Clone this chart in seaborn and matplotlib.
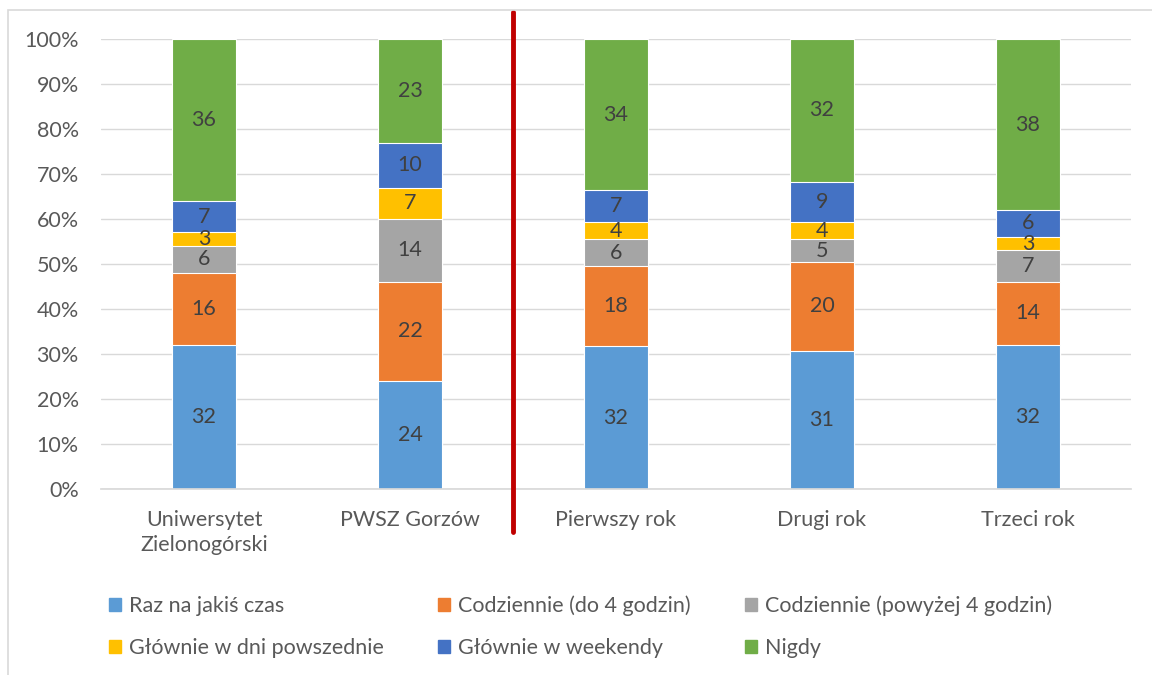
import numpy as np
import pandas as pd
import seaborn as sns
from matplotlib import pyplot as plt
from matplotlib.patches import Rectangle

categories = ['Uniwersytet\nZielonogórski', 'PWSZ Gorzów', 'Pierwszy rok', 'Drugi rok', 'Trzeci rok']
series = ['Raz na jakiś czas', 'Codziennie (do 4 godzin)', 'Codziennie (powyżej 4 godzin)',
          'Głównie w dni powszednie', 'Głównie w weekendy', 'Nigdy']
raz = [32, 24, 32, 31, 32]
codz_do4 = [16, 22, 18, 20, 14]
codz_pow4 = [6, 14, 6, 5, 7]
dni_powszednie = [3, 7, 4, 4, 3]
weekendy = [7, 10, 7, 9, 6]
nigdy = [36, 23, 34, 32, 38]
colors = ['#5b9bd5', '#ed7d31', '#a5a5a5', '#ffc000', '#4472c4', '#70ad47']

sns.set_theme(style='white')
plt.rcParams['font.family'] = ['Lato', 'DejaVu Sans']

values = np.array([raz, codz_do4, codz_pow4, dni_powszednie, weekendy, nigdy], dtype=float)
pct = values / values.sum(axis=0) * 100
cum = np.cumsum(pct, axis=0)

fig = plt.figure(figsize=(11.52, 6.75), dpi=100)
ax = fig.add_axes([0.0877, 0.2756, 0.8941, 0.6666])

# stacked bars: draw cumulative heights from the top series down
for i in range(len(series) - 1, -1, -1):
    df = pd.DataFrame({'cat': categories, 'val': cum[i]})
    sns.barplot(data=df, x='cat', y='val', color=colors[i], width=0.31,
                saturation=1, edgecolor='white', linewidth=0.8, ax=ax, zorder=2)

for i in range(len(series)):
    for j in range(len(categories)):
        mid = cum[i][j] - pct[i][j] / 2
        ax.text(j, mid, f'{int(values[i][j])}', ha='center', va='center',
                fontsize=15.5, color='#404040', zorder=3)

ax.set_xlim(-0.5, 4.5)
ax.set_ylim(0, 100)
ax.set_yticks(np.arange(0, 101, 10))
ax.set_yticklabels([f'{t}%' for t in range(0, 101, 10)])
ax.yaxis.grid(True, color='#d9d9d9', linewidth=1)
ax.set_axisbelow(True)
for s in ['top', 'right', 'left']:
    ax.spines[s].set_visible(False)
ax.spines['bottom'].set_color('#d9d9d9')
ax.tick_params(axis='both', length=0, labelsize=15.5, labelcolor='#595959')
ax.tick_params(axis='x', pad=15)
ax.tick_params(axis='y', pad=16)
for lbl in ax.get_xticklabels():
    lbl.set_linespacing(1.3)
ax.set_xlabel('')
ax.set_ylabel('')

# red separator between universities and years
ax.axvline(1.5, ymin=-0.096, ymax=1.06, color='#c00000', linewidth=3.5, clip_on=False, zorder=4)

# legend filled row by row (3 columns, 2 rows)
order = [0, 3, 1, 4, 2, 5]
handles = [Rectangle((0, 0), 1, 1, color=colors[k]) for k in order]
labels = [series[k] for k in order]
fig.legend(handles, labels, loc='upper left', bbox_to_anchor=(0.087, 0.13), ncol=3,
           frameon=False, fontsize=15.5, labelcolor='#595959', handlelength=0.55, handleheight=0.55,
           handletextpad=0.4, columnspacing=2.5, labelspacing=1.0, borderaxespad=0)

fig.patches.append(Rectangle((8 / 1152, -0.05), 1.2, 1.05 - 10 / 675, transform=fig.transFigure,
                             fill=False, edgecolor='#d9d9d9', linewidth=1.2))

fig.savefig('out.png', dpi=100)
